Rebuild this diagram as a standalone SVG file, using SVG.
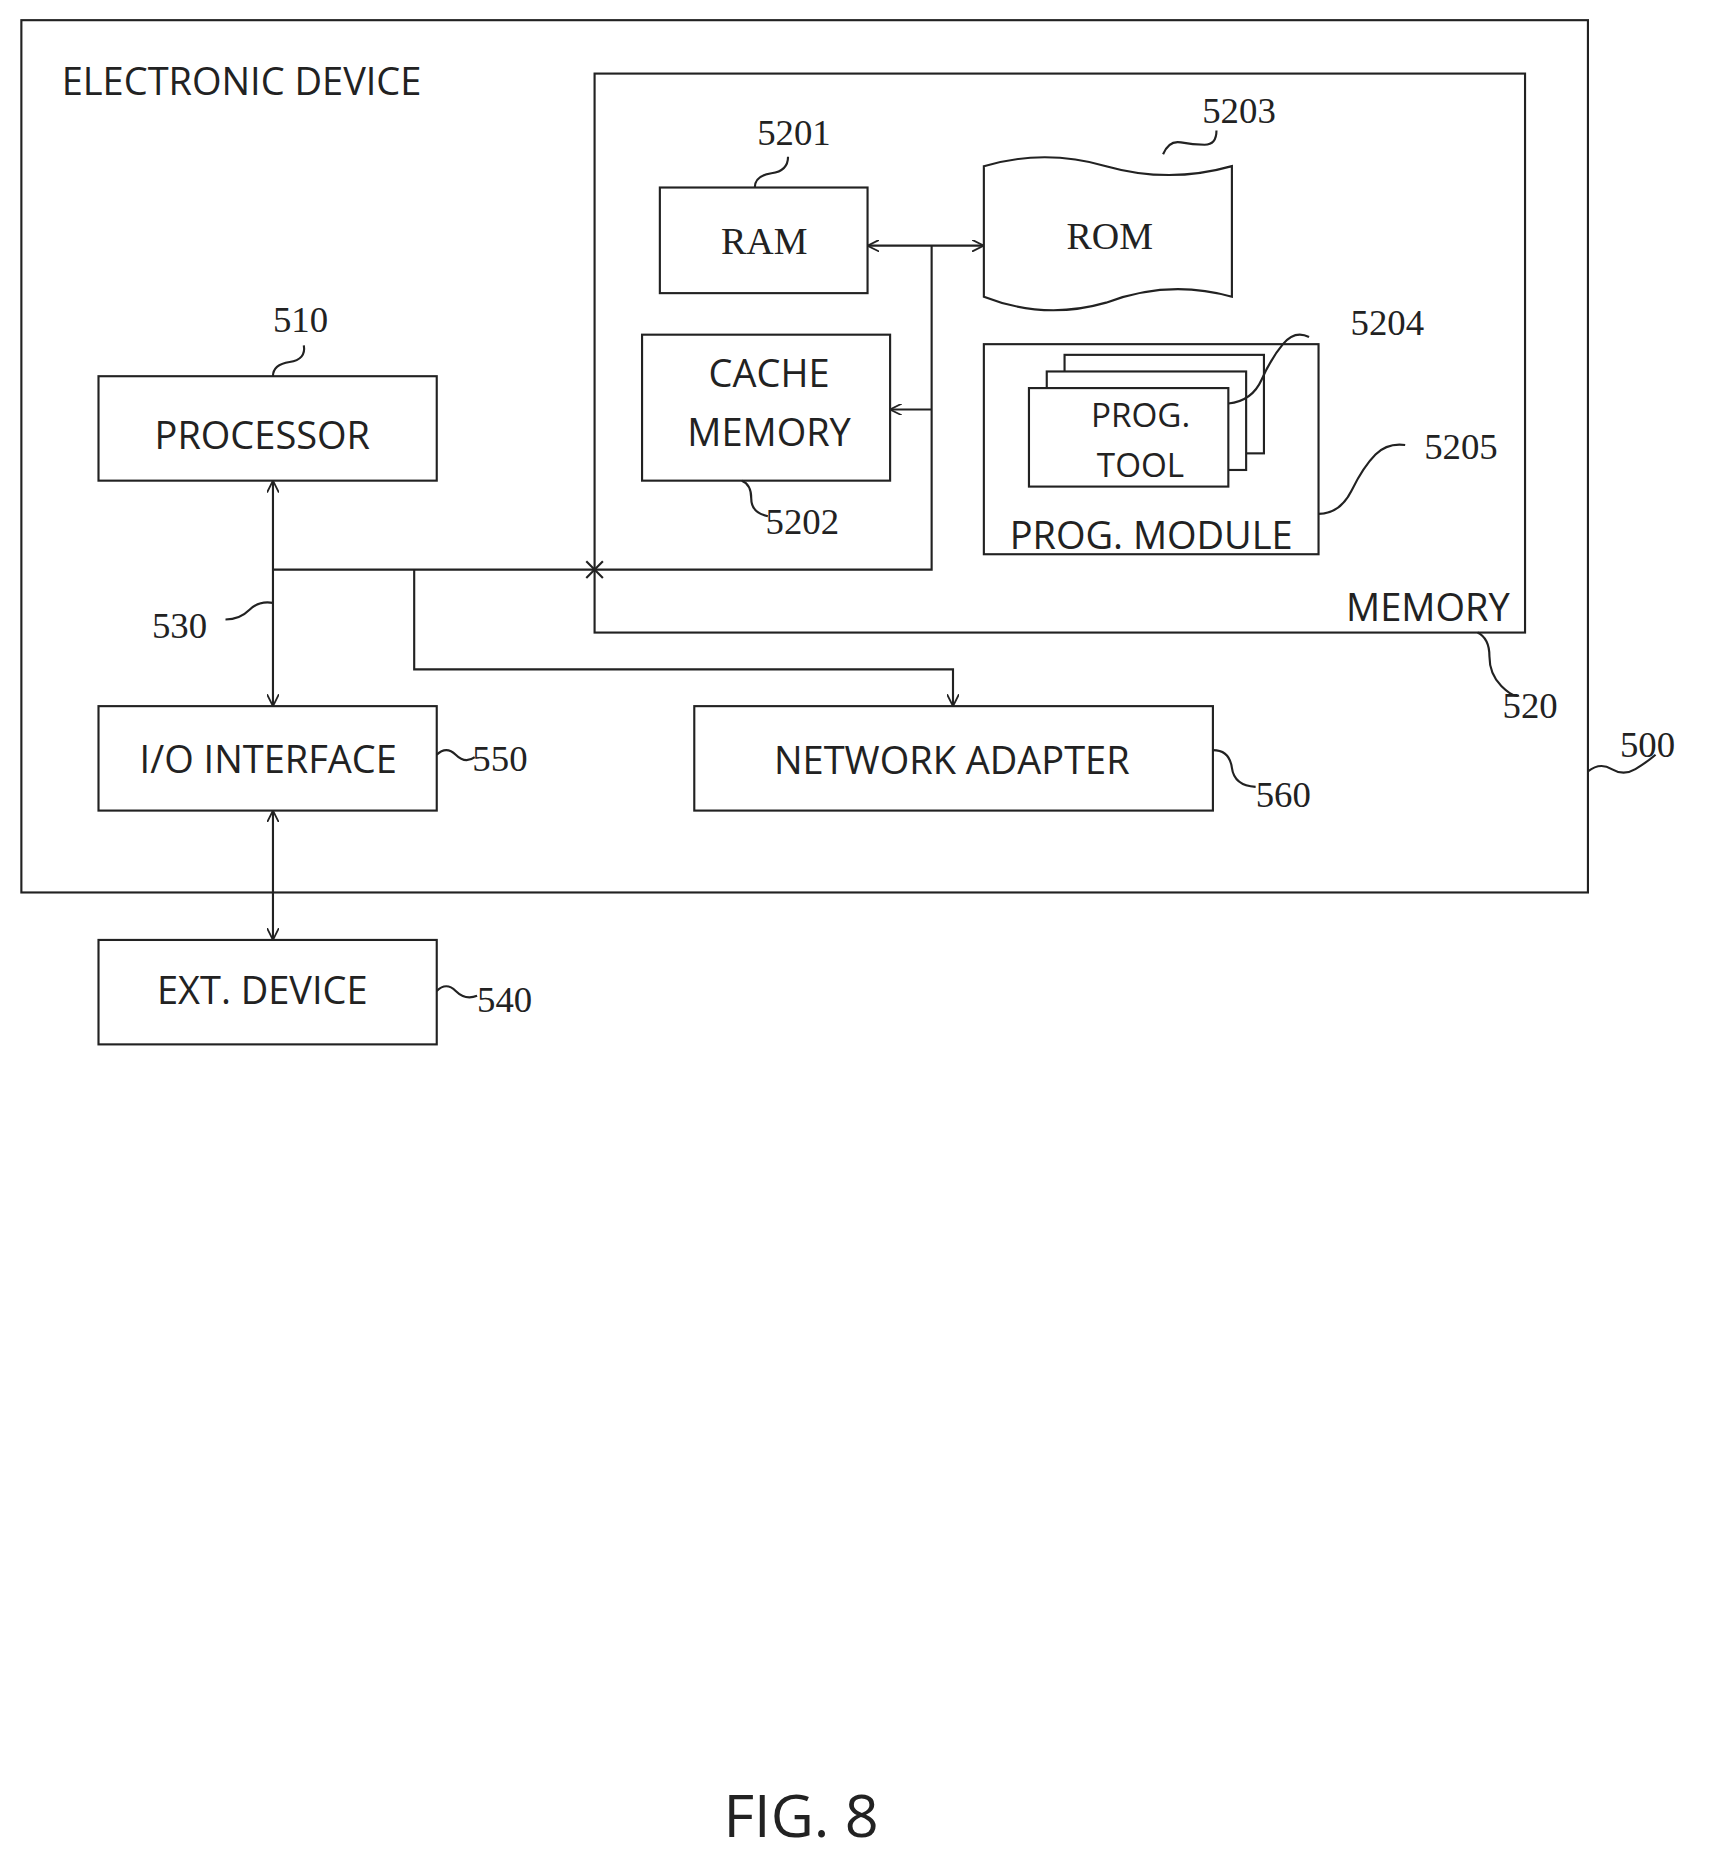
<svg xmlns="http://www.w3.org/2000/svg" width="1709" height="1863" viewBox="0 0 1709 1863">
<style>
.b{fill:#fff;stroke:#222;stroke-width:1.8}
.l{fill:none;stroke:#222;stroke-width:1.8}
.t{font-family:"Open Sans","Noto Sans",sans-serif;font-size:32px;fill:#222;text-anchor:middle}
.n{font-family:"Liberation Serif",serif;font-size:31px;fill:#222}
</style>
<defs>
<marker id="a" viewBox="0 0 10 10" refX="10" refY="5" markerWidth="10" markerHeight="10" markerUnits="userSpaceOnUse" orient="auto-start-reverse">
<path d="M0,0 L10,5 L0,10" fill="none" stroke="#222" stroke-width="1.5"/>
</marker>
</defs>
<rect width="1709" height="1863" fill="#fff"/>
<g transform="scale(1.1868)">
<g id="device">
<rect class="b" x="18" y="17" width="1320" height="735"/>
<text class="t" x="52" y="80" style="text-anchor:start">ELECTRONIC DEVICE</text>
<path class="l" d="M1338,650 q10,-8 20,-2 t20,0 t17,-12"/>
<text class="n" x="1365" y="638">500</text>
</g>
<g id="memory">
<rect class="b" x="501" y="62" width="784" height="471"/>
<text class="t" x="1272" y="523" style="text-anchor:end">MEMORY</text>
<path class="l" d="M1245,533 q10,5 10,20 t10,25 t15,8"/>
<text class="n" x="1266" y="605">520</text>
</g>
<g id="ram">
<rect class="b" x="556" y="158" width="175" height="89"/>
<text class="t" x="644" y="214" style="font-family:'Liberation Serif',serif">RAM</text>
<path class="l" d="M636,158 q0,-10 14,-12 t14,-14"/>
<text class="n" x="638" y="122">5201</text>
</g>
<g id="rom">
<path class="b" d="M829,140 Q880,125 932,140 Q985,155 1038,140 L1038,250 Q985,235 932,255 Q880,270 829,250 Z"/>
<text class="t" x="935" y="210" style="font-family:'Liberation Serif',serif">ROM</text>
<path class="l" d="M980,130 q5,-12 15,-10 t20,2 t10,-12"/>
<text class="n" x="1013" y="104">5203</text>
</g>
<g id="cache">
<rect class="b" x="541" y="282" width="209" height="123"/>
<text class="t" x="648" y="326">CACHE</text>
<text class="t" x="648" y="376">MEMORY</text>
<path class="l" d="M625,405 q8,3 8,15 t14,15"/>
<text class="n" x="645" y="450">5202</text>
</g>
<g id="progmodule">
<rect class="b" x="829" y="290" width="282" height="177"/>
<text class="t" x="970" y="463">PROG. MODULE</text>
<path class="l" d="M1111,433 q18,0 28,-20 t20,-30 t25,-8"/>
<text class="n" x="1200" y="387">5205</text>
</g>
<g id="progtool">
<rect class="b" x="897" y="299" width="168" height="83"/>
<rect class="b" x="882" y="313" width="168" height="83"/>
<rect class="b" x="867" y="327" width="168" height="83"/>
<text class="t" x="961" y="360" style="font-size:28px">PROG.</text>
<text class="t" x="961" y="402" style="font-size:28px">TOOL</text>
<path class="l" d="M1035,340 q20,-2 28,-20 t18,-30 t22,-6"/>
<text class="n" x="1138" y="282">5204</text>
</g>
<g id="processor">
<rect class="b" x="83" y="317" width="285" height="88"/>
<text class="t" x="221" y="378">PROCESSOR</text>
<path class="l" d="M230,317 q0,-10 14,-12 t12,-14"/>
<text class="n" x="230" y="280">510</text>
</g>
<g id="io">
<rect class="b" x="83" y="595" width="285" height="88"/>
<text class="t" x="226" y="651">I/O INTERFACE</text>
<path class="l" d="M368,636 q8,-8 16,0 t16,2"/>
<text class="n" x="398" y="650">550</text>
</g>
<g id="network">
<rect class="b" x="585" y="595" width="437" height="88"/>
<text class="t" x="802" y="652">NETWORK ADAPTER</text>
<path class="l" d="M1022,632 q14,0 16,15 t20,16"/>
<text class="n" x="1058" y="680">560</text>
</g>
<g id="ext">
<rect class="b" x="83" y="792" width="285" height="88"/>
<text class="t" x="221" y="846">EXT. DEVICE</text>
<path class="l" d="M368,835 q8,-8 16,0 t18,4"/>
<text class="n" x="402" y="853">540</text>
</g>
<g id="connectors">
<path class="l" d="M731,207 H829" marker-start="url(#a)" marker-end="url(#a)"/>
<path class="l" d="M785,207 V480 H230"/>
<path class="l" d="M785,345 H750" marker-end="url(#a)"/>
<path class="l" d="M230,405 V595" marker-start="url(#a)" marker-end="url(#a)"/>
<path class="l" d="M349,480 V564 H803 V595" marker-end="url(#a)"/>
<path class="l" d="M230,683 V792" marker-start="url(#a)" marker-end="url(#a)"/>
<path class="l" d="M494,473 L508,487 M508,473 L494,487"/>
<path class="l" d="M230,508 q-12,-2 -20,6 t-20,8"/>
<text class="n" x="128" y="538">530</text>
</g>
<text x="675" y="1548" style="font-family:'Open Sans','Noto Sans',sans-serif;font-size:50px;fill:#222;text-anchor:middle">FIG. 8</text>
</g>
</svg>
